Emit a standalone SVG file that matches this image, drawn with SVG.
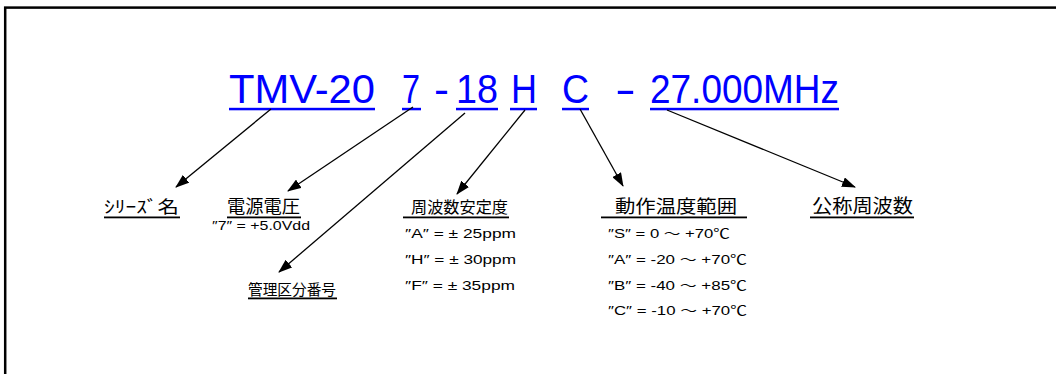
<svg xmlns="http://www.w3.org/2000/svg" width="1056" height="374" viewBox="0 0 1056 374">
<defs>
<style>
.code{font-family:"Liberation Sans",Arial,sans-serif;font-size:40px;fill:#0000ff}
.ul{fill:#0000ff}
.lab{font-family:"Noto Sans CJK JP",sans-serif;fill:#000}
.val{font-family:"Liberation Sans","Noto Sans CJK JP",sans-serif;font-size:13px;fill:#000}
.bl{fill:#000}
.conn line{stroke:#000;stroke-width:1.3;marker-end:url(#ah)}
</style>
<marker id="ah" markerWidth="14" markerHeight="10" refX="13" refY="5" orient="auto" markerUnits="userSpaceOnUse">
<path d="M0,0 L14,5 L0,10 z" fill="#000"/>
</marker>
</defs>
<rect x="0" y="0" width="1056" height="374" fill="#fff"/>
<rect x="5.2" y="7.6" width="1100" height="420" fill="none" stroke="#000" stroke-width="2.5"/>

<g id="code">
<text class="code" x="229" y="103" textLength="146" lengthAdjust="spacingAndGlyphs">TMV-20</text>
<rect class="ul" x="229" y="107.8" width="146" height="2.5"/>
<text class="code" x="402" y="103" textLength="18" lengthAdjust="spacingAndGlyphs">7</text>
<rect class="ul" x="402" y="107.8" width="19" height="2.5"/>
<text class="code" x="434" y="103" textLength="15" lengthAdjust="spacingAndGlyphs">-</text>
<text class="code" x="456" y="103" textLength="42" lengthAdjust="spacingAndGlyphs">18</text>
<rect class="ul" x="456" y="107.8" width="42" height="2.5"/>
<text class="code" x="511" y="103" textLength="26" lengthAdjust="spacingAndGlyphs">H</text>
<rect class="ul" x="510" y="107.8" width="27" height="2.5"/>
<text class="code" x="562" y="103" textLength="27" lengthAdjust="spacingAndGlyphs">C</text>
<rect class="ul" x="562" y="107.8" width="27" height="2.5"/>
<text class="code" x="615" y="103" textLength="21" lengthAdjust="spacingAndGlyphs">-</text>
<text class="code" x="650" y="103" textLength="189" lengthAdjust="spacingAndGlyphs">27.000MHz</text>
<rect class="ul" x="650" y="107.8" width="189" height="2.5"/>
</g>

<g class="conn" id="connectors">
<line x1="271" y1="109" x2="176" y2="187"/>
<line x1="413" y1="107" x2="288" y2="191"/>
<line x1="465" y1="113" x2="279" y2="272"/>
<line x1="525" y1="110" x2="457" y2="194"/>
<line x1="580" y1="109" x2="623" y2="186"/>
<line x1="667" y1="110" x2="855" y2="187"/>
</g>

<g id="series">
<text class="lab" x="104" y="213" font-size="17" textLength="75" lengthAdjust="spacingAndGlyphs">ｼﾘｰｽﾞ名</text>
<rect class="bl" x="104" y="216.5" width="76" height="1.8"/>
</g>

<g id="voltage">
<text class="lab" x="227" y="213" font-size="18" textLength="73" lengthAdjust="spacingAndGlyphs">電源電圧</text>
<rect class="bl" x="227" y="216.5" width="74" height="1.8"/>
<text class="val" x="212" y="230" font-size="12.5" textLength="98" lengthAdjust="spacingAndGlyphs">″7″ = +5.0Vdd</text>
</g>

<g id="mgmt">
<text class="lab" x="248" y="295" font-size="15" textLength="88" lengthAdjust="spacingAndGlyphs">管理区分番号</text>
<rect class="bl" x="248" y="297.5" width="89" height="1.8"/>
</g>

<g id="stability">
<text class="lab" x="411" y="213" font-size="16" textLength="97" lengthAdjust="spacingAndGlyphs">周波数安定度</text>
<rect class="bl" x="403" y="216.5" width="106" height="1.8"/>
<text class="val" x="405" y="238" textLength="111" lengthAdjust="spacingAndGlyphs">″A″ = ± 25ppm</text>
<text class="val" x="405" y="264" textLength="111" lengthAdjust="spacingAndGlyphs">″H″ = ± 30ppm</text>
<text class="val" x="405" y="290" textLength="110" lengthAdjust="spacingAndGlyphs">″F″ = ± 35ppm</text>
</g>

<g id="temp">
<text class="lab" x="615" y="213" font-size="18" textLength="122" lengthAdjust="spacingAndGlyphs">動作温度範囲</text>
<rect class="bl" x="601" y="216.5" width="146" height="1.8"/>
<text class="val" x="608" y="238" textLength="122" lengthAdjust="spacingAndGlyphs">″S″ = 0 ～ +70℃</text>
<text class="val" x="608" y="264" textLength="139" lengthAdjust="spacingAndGlyphs">″A″ = -20 ～ +70℃</text>
<text class="val" x="608" y="290" textLength="139" lengthAdjust="spacingAndGlyphs">″B″ = -40 ～ +85℃</text>
<text class="val" x="608" y="315" textLength="139" lengthAdjust="spacingAndGlyphs">″C″ = -10 ～ +70℃</text>
</g>

<g id="freq">
<text class="lab" x="812" y="213" font-size="19" textLength="101" lengthAdjust="spacingAndGlyphs">公称周波数</text>
<rect class="bl" x="810" y="216.5" width="104" height="1.8"/>
</g>
</svg>
